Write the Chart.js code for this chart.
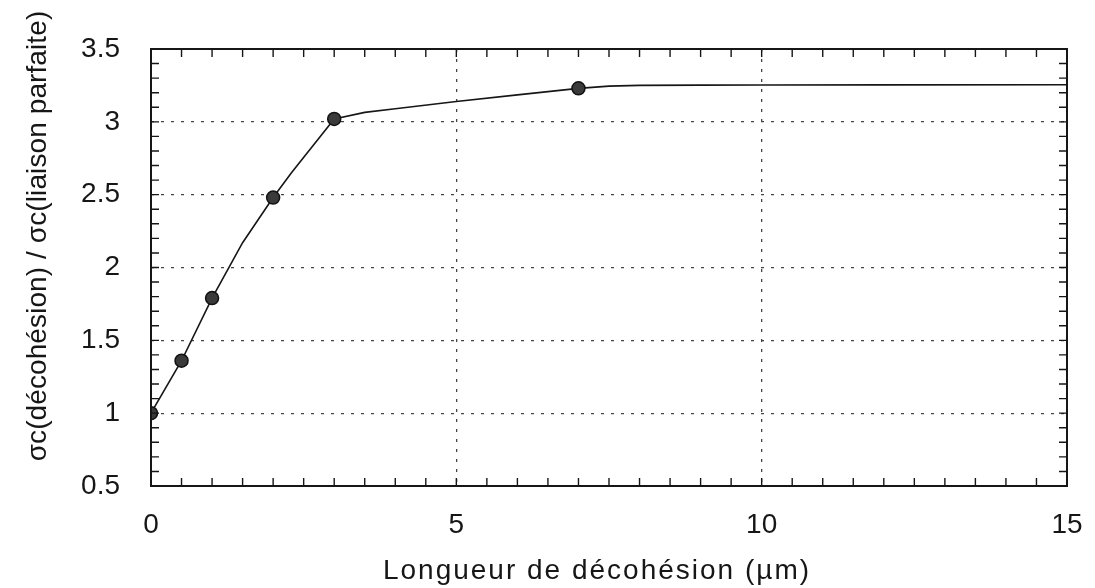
<!DOCTYPE html>
<html>
<head>
<meta charset="utf-8">
<script src="https://cdn.jsdelivr.net/npm/chart.js@4.4.1/dist/chart.umd.min.js"></script>
<style>
  html,body{margin:0;padding:0;background:#fff;}
  #wrap{width:1095px;height:588px;position:relative;}
</style>
</head>
<body>
<div id="wrap"><canvas id="c" width="1095" height="588"></canvas></div>
<script>
// Measured points (markers)
const pointX = [0, 0.5, 1, 2, 3, 7];
const pointY = [1.0, 1.36, 1.79, 2.48, 3.02, 3.23];
// Traced curve through the points
const curveX = [0, 0.5, 1, 1.5, 2, 2.3, 3, 3.5, 4, 5, 6, 7, 7.5, 8, 9, 10, 12, 15];
const curveY = [1.0, 1.36, 1.79, 2.17, 2.48, 2.65, 3.02, 3.065, 3.09, 3.14, 3.185, 3.23, 3.245, 3.25, 3.252, 3.253, 3.254, 3.255];
// Axis ticks
const xTicks = [0, 5, 10, 15];
const yTicks = [0.5, 1, 1.5, 2, 2.5, 3, 3.5];
const xTitle = 'Longueur de décohésion (µm)';
const yTitle = 'σc(décohésion) / σc(liaison parfaite)';

const FONT = '"Liberation Sans", Arial, sans-serif';
const INK = '#161616';

const framePlugin = {
  id: 'frameTicks',
  afterDraw(chart) {
    const {ctx, chartArea: a, scales: {x, y}} = chart;
    ctx.save();
    ctx.strokeStyle = INK;
    ctx.lineWidth = 1.4;
    const L = 8;
    ctx.beginPath();
    for (let i = 1; i < 30; i++) {
      const px = x.getPixelForValue(i * 0.5);
      ctx.moveTo(px, a.bottom); ctx.lineTo(px, a.bottom - L);
      ctx.moveTo(px, a.top); ctx.lineTo(px, a.top + L);
    }
    for (let i = 6; i < 35; i++) {
      const py = y.getPixelForValue(i / 10);
      ctx.moveTo(a.left, py); ctx.lineTo(a.left + L, py);
      ctx.moveTo(a.right, py); ctx.lineTo(a.right - L, py);
    }
    ctx.stroke();
    ctx.lineWidth = 2;
    ctx.strokeRect(a.left, a.top, a.right - a.left, a.bottom - a.top);
    // axis titles
    ctx.fillStyle = INK;
    ctx.textAlign = 'center';
    ctx.textBaseline = 'middle';
    ctx.font = '28px ' + FONT;
    try { ctx.letterSpacing = '2px'; } catch (e) {}
    ctx.fillText(xTitle, 597, 571);
    try { ctx.letterSpacing = '0.1px'; } catch (e) {}
    ctx.translate(38, 236);
    ctx.rotate(-Math.PI / 2);
    ctx.fillText(yTitle, 0, 0);
    ctx.restore();
  }
};

const gridColor = (ends) => (c) => (ends.includes(c.tick.value) ? 'rgba(0,0,0,0)' : '#444');

new Chart(document.getElementById('c'), {
  type: 'scatter',
  data: {
    datasets: [
      {
        label: 'courbe',
        data: curveX.map((v, i) => ({x: v, y: curveY[i]})),
        showLine: true,
        borderColor: INK,
        borderWidth: 1.6,
        pointRadius: 0,
        tension: 0,
        order: 2
      },
      {
        label: 'points',
        data: pointX.map((v, i) => ({x: v, y: pointY[i]})),
        showLine: false,
        pointRadius: 6.5,
        pointBackgroundColor: '#3a3a3a',
        pointBorderColor: '#111',
        pointBorderWidth: 1.5,
        order: 1
      }
    ]
  },
  options: {
    responsive: false,
    animation: false,
    layout: {padding: {top: 49, right: 28, left: 0, bottom: 0}},
    plugins: {legend: {display: false}, tooltip: {enabled: false}},
    scales: {
      x: {
        type: 'linear',
        min: 0, max: 15,
        afterFit(s) { s.height = 102; s.paddingLeft = 0; s.paddingRight = 0; },
        afterBuildTicks(s) { s.ticks = xTicks.map(v => ({value: v})); },
        ticks: {color: INK, font: {family: FONT, size: 28}, padding: 22, maxRotation: 0, callback: v => String(v)},
        grid: {drawTicks: false, color: gridColor([0, 15]), lineWidth: 1.3},
        border: {display: false, dash: [3, 7]}
      },
      y: {
        type: 'linear',
        min: 0.5, max: 3.5,
        afterFit(s) { s.width = 151; s.paddingTop = 0; s.paddingBottom = 0; },
        afterBuildTicks(s) { s.ticks = yTicks.map(v => ({value: v})); },
        ticks: {color: INK, font: {family: FONT, size: 28}, padding: 31, callback: v => String(v)},
        grid: {drawTicks: false, color: gridColor([0.5, 3.5]), lineWidth: 1.3},
        border: {display: false, dash: [3, 7]}
      }
    }
  },
  plugins: [framePlugin]
});
</script>
</body>
</html>
